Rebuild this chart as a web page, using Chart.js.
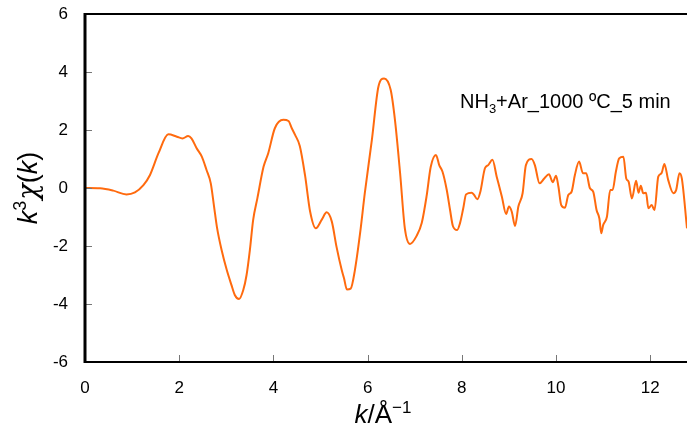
<!DOCTYPE html>
<html lang="en">
<head>
  <meta charset="UTF-8" />
  <title>EXAFS k3 chi(k)</title>
  <script src="https://cdn.jsdelivr.net/npm/chart.js"></script>
  <style>
    html, body { margin: 0; padding: 0; background: #fff; }
    #wrap { width: 687px; height: 432px; }
  </style>
</head>
<body>
  <div id="wrap"><canvas id="chi"></canvas></div>

  <script>
    // k (1/Å) and k^3 chi(k)
    const kValues = [0, 0.32, 0.6, 0.88, 1.06, 1.24, 1.38, 1.56, 1.77, 1.95, 2.07, 2.19, 2.26, 2.37, 2.48, 2.58, 2.67, 2.74, 2.8, 2.9, 3.01, 3.11, 3.18, 3.27, 3.36, 3.43, 3.5, 3.57, 3.66, 3.79, 3.89, 4.03, 4.21, 4.32, 4.39, 4.46, 4.56, 4.67, 4.78, 4.9, 5.03, 5.13, 5.24, 5.34, 5.45, 5.5, 5.56, 5.64, 5.73, 5.84, 5.94, 6.09, 6.23, 6.35, 6.49, 6.58, 6.69, 6.79, 6.9, 7.04, 7.15, 7.25, 7.34, 7.45, 7.52, 7.59, 7.68, 7.75, 7.81, 7.9, 7.96, 8.03, 8.09, 8.21, 8.26, 8.33, 8.39, 8.49, 8.56, 8.65, 8.74, 8.85, 8.94, 9.0, 9.06, 9.13, 9.2, 9.29, 9.36, 9.48, 9.55, 9.65, 9.75, 9.85, 9.93, 10.0, 10.05, 10.11, 10.19, 10.26, 10.33, 10.4, 10.49, 10.57, 10.64, 10.72, 10.79, 10.86, 10.92, 10.96, 11.0, 11.08, 11.15, 11.2, 11.27, 11.34, 11.43, 11.49, 11.54, 11.61, 11.7, 11.75, 11.8, 11.85, 11.91, 11.96, 12.03, 12.09, 12.17, 12.24, 12.3, 12.38, 12.49, 12.55, 12.62, 12.67, 12.78];
    const k3chi = [0, -0.01, -0.09, -0.22, -0.15, 0.1, 0.45, 1.2, 1.85, 1.77, 1.71, 1.79, 1.71, 1.37, 1.08, 0.62, 0.16, -0.64, -1.34, -2.14, -2.83, -3.35, -3.69, -3.83, -3.52, -3.0, -2.14, -1.1, -0.35, 0.73, 1.2, 2.06, 2.35, 2.31, 2.06, 1.83, 1.45, 0.45, -0.82, -1.39, -1.08, -0.84, -1.16, -2.03, -2.83, -3.12, -3.5, -3.47, -2.83, -1.56, -0.18, 1.66, 3.5, 3.78, 3.38, 2.35, 0.5, -1.39, -1.93, -1.65, -1.2, -0.3, 0.73, 1.14, 0.79, 0.56, -0.07, -0.76, -1.31, -1.45, -1.22, -0.7, -0.22, -0.16, -0.24, -0.39, -0.15, 0.68, 0.79, 0.97, 0.39, -0.3, -0.9, -0.64, -0.82, -1.31, -0.64, -0.18, 0.79, 1.0, 0.79, 0.16, 0.33, 0.47, 0.2, 0.42, 0.05, -0.59, -0.68, -0.24, -0.13, 0.45, 0.91, 0.51, 0.51, -0.01, -0.13, -0.76, -1.05, -1.56, -1.28, -0.99, -0.07, -0.07, 0.56, 1.02, 1.08, 0.33, 0.22, -0.36, 0.25, -0.16, 0.08, -0.18, -0.16, -0.7, -0.59, -0.76, 0.39, 0.51, 0.83, 0.28, -0.18, -0.07, 0.51, 0.33, -1.39];
    const xTicks = [0, 2, 4, 6, 8, 10, 12];
    const yTicks = [-6, -4, -2, 0, 2, 4, 6];
    const sampleLabel = 'NH3+Ar_1000 ºC_5 min';

    const FONT = '"Liberation Sans", Arial, sans-serif';

    // draws a run of text pieces with their own fonts, starting at x
    function drawRuns(ctx, runs, x, y) {
      runs.forEach(r => {
        ctx.font = r.font;
        ctx.fillText(r.text, x, y + (r.dy || 0));
        x += ctx.measureText(r.text).width + (r.gap || 0);
      });
    }
    function runsWidth(ctx, runs) {
      let w = 0;
      runs.forEach(r => { ctx.font = r.font; w += ctx.measureText(r.text).width + (r.gap || 0); });
      return w;
    }

    const framePlugin = {
      id: 'frame',
      afterDraw(chart) {
        const ctx = chart.ctx;
        const a = chart.chartArea;
        const xs = chart.scales.x, ys = chart.scales.y;
        ctx.save();
        // inward ticks
        ctx.strokeStyle = '#777';
        ctx.lineWidth = 1;
        ctx.beginPath();
        xTicks.forEach(v => {
          if (v === 0) return;
          const px = Math.round(xs.getPixelForValue(v)) + 0.5;
          ctx.moveTo(px, a.bottom); ctx.lineTo(px, a.bottom - 7);
        });
        yTicks.forEach(v => {
          if (v === -6 || v === 6) return;
          const py = Math.round(ys.getPixelForValue(v)) + 0.5;
          ctx.moveTo(a.left, py); ctx.lineTo(a.left + 7, py);
        });
        ctx.stroke();
        // frame
        ctx.strokeStyle = '#000';
        ctx.lineWidth = 2;
        ctx.beginPath();
        ctx.moveTo(a.left, a.top); ctx.lineTo(a.right, a.top);
        ctx.moveTo(a.left, a.bottom); ctx.lineTo(a.right, a.bottom);
        ctx.stroke();
        ctx.lineWidth = 3;
        ctx.beginPath();
        ctx.moveTo(a.left, a.top - 1); ctx.lineTo(a.left, a.bottom + 1);
        ctx.stroke();

        ctx.fillStyle = '#000';
        ctx.textBaseline = 'alphabetic';
        ctx.textAlign = 'left';

        // x title: k/Å^-1
        const xr = [
          { text: 'k', font: 'italic 26px ' + FONT },
          { text: '/Å', font: '26px ' + FONT },
          { text: '\u22121', font: '17px ' + FONT, dy: -10 }
        ];
        drawRuns(ctx, xr, 383 - runsWidth(ctx, xr) / 2, 423);

        // y title: k^3 chi(k)
        const yr = [
          { text: 'k', font: 'italic 27px ' + FONT },
          { text: '3', font: '18px ' + FONT, dy: -11, gap: 1 },
          { text: 'χ', font: 'italic 27px "DejaVu Serif", serif' },
          { text: '(', font: '27px ' + FONT },
          { text: 'k', font: 'italic 27px ' + FONT },
          { text: ')', font: '27px ' + FONT }
        ];
        ctx.save();
        ctx.translate(37, 188);
        ctx.rotate(-Math.PI / 2);
        drawRuns(ctx, yr, -runsWidth(ctx, yr) / 2, 0);
        ctx.restore();

        // sample label with subscript 3
        const parts = sampleLabel.split('3');
        const lr = [
          { text: parts[0], font: '20px ' + FONT },
          { text: '3', font: '13px ' + FONT, dy: 5 },
          { text: parts.slice(1).join('3'), font: '20px ' + FONT }
        ];
        drawRuns(ctx, lr, 460, 108);
        ctx.restore();
      }
    };

    new Chart(document.getElementById('chi'), {
      type: 'line',
      data: {
        datasets: [{
          data: kValues.map((k, i) => ({ x: k, y: k3chi[i] })),
          borderColor: '#ff6a0e',
          borderWidth: 2,
          pointRadius: 0,
          tension: 0.35,
          cubicInterpolationMode: 'monotone',
          fill: false
        }]
      },
      options: {
        responsive: true,
        maintainAspectRatio: false,
        animation: false,
        devicePixelRatio: 1,
        layout: { padding: 0 },
        plugins: { legend: { display: false }, tooltip: { enabled: false } },
        scales: {
          x: {
            type: 'linear',
            min: 0,
            max: 12.78,
            afterFit: s => { s.height = 70; s.paddingLeft = 0; s.paddingRight = 0; },
            afterBuildTicks: s => { s.ticks = xTicks.map(v => ({ value: v })); },
            grid: { drawOnChartArea: false, drawTicks: false },
            border: { display: false },
            ticks: { padding: 16, color: '#000', font: { family: FONT, size: 17 }, maxRotation: 0 }
          },
          y: {
            type: 'linear',
            min: -6,
            max: 6,
            afterFit: s => { s.width = 85; s.paddingTop = 14; s.paddingBottom = 0; },
            afterBuildTicks: s => { s.ticks = yTicks.map(v => ({ value: v })); },
            grid: { drawOnChartArea: false, drawTicks: false },
            border: { display: false },
            ticks: { padding: 17, color: '#000', font: { family: FONT, size: 17 } }
          }
        }
      },
      plugins: [framePlugin]
    });
  </script>
</body>
</html>
